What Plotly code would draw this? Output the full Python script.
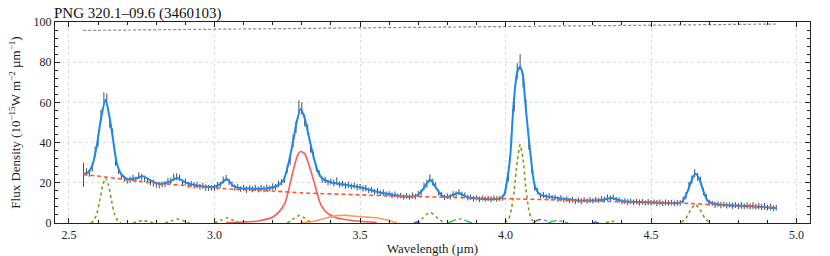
import plotly.graph_objects as go

# ---------------- data ----------------
TITLE = "PNG 320.1\u201309.6 (3460103)"

# observed spectrum: uniform sampling grid (start, step) + fluxes and errors
WAVE_START = 2.55
WAVE_STEP = 0.01
obs_flux = [
    24.0, 25.5, 24.8, 27.5, 35.5, 41.0, 53.5, 62.0, 61.5, 50.5,
    44.5, 30.5, 26.0, 23.2, 22.0, 21.0, 21.5, 22.4, 21.6, 23.5,
    23.0, 22.0, 21.2, 20.4, 19.8, 19.0, 18.8, 19.2, 19.4, 20.8,
    21.0, 22.8, 23.0, 22.5, 20.2, 20.4, 19.0, 19.5, 18.6, 18.9,
    18.0, 18.5, 17.6, 17.4, 17.5, 17.6, 18.9, 19.0, 21.4, 22.3,
    20.5, 19.3, 17.6, 17.8, 16.9, 17.5, 16.6, 17.3, 16.8, 17.4,
    16.7, 17.5, 16.9, 17.6, 17.2, 18.1, 17.9, 19.4, 20.3, 21.6,
    27.0, 31.4, 40.8, 47.6, 57.5, 57.0, 51.0, 46.5, 37.5, 33.6,
    27.4, 24.6, 21.5, 21.4, 20.1, 20.6, 19.8, 20.9, 19.2, 19.5,
    18.6, 19.0, 18.2, 18.7, 17.8, 18.0, 17.1, 17.3, 16.2, 16.5,
    15.5, 15.8, 14.8, 15.1, 14.3, 14.5, 13.8, 14.2, 13.4, 13.6,
    12.9, 13.5, 12.9, 13.6, 13.2, 14.4, 15.2, 18.3, 19.6, 22.2,
    20.3, 18.6, 15.1, 14.1, 12.8, 13.3, 13.0, 14.3, 14.4, 15.3,
    14.2, 13.9, 12.6, 12.8, 12.0, 12.5, 11.8, 12.4, 11.9, 12.3,
    11.8, 12.4, 11.9, 12.2, 12.6, 16.5, 23.2, 41.0, 59.0, 75.5,
    80.0, 71.0, 58.5, 39.0, 26.8, 18.0, 15.8, 13.6, 13.9, 12.9,
    13.4, 12.5, 12.8, 11.9, 12.3, 11.5, 11.9, 11.1, 11.5, 10.8,
    11.3, 10.8, 11.5, 10.9, 11.4, 11.0, 11.6, 11.2, 11.9, 11.7,
    12.6, 12.2, 12.7, 11.6, 11.4, 10.6, 10.9, 10.4, 10.8, 10.3,
    10.7, 10.2, 10.5, 10.0, 10.4, 10.1, 10.4, 9.9, 10.3, 9.8,
    10.2, 9.9, 10.1, 9.7, 10.0, 10.0, 11.5, 13.6, 18.4, 21.6,
    24.8, 23.0, 21.0, 15.6, 12.8, 10.1, 9.8, 9.0, 9.4, 8.9,
    9.2, 8.7, 9.0, 8.6, 8.9, 8.4, 8.8, 8.3, 8.7, 8.2,
    8.6, 8.1, 8.4, 7.9, 8.3, 7.7, 8.0, 7.4, 7.6,
]
obs_err = [
    6.0, 1.8, 1.8, 2.0, 2.5, 3.0, 3.0, 3.0, 3.0, 3.0,
    2.5, 2.0, 1.6, 1.5, 1.5, 1.4, 1.6, 1.5, 1.4, 1.7,
    1.5, 1.6, 1.4, 1.5, 1.7, 1.5, 1.6, 1.4, 1.5, 1.6,
    1.5, 1.8, 1.7, 1.5, 1.4, 1.6, 1.5, 1.4, 1.5, 1.6,
    1.4, 1.5, 1.6, 1.5, 1.4, 1.5, 1.6, 1.5, 1.7, 1.6,
    1.5, 1.4, 1.6, 1.5, 1.4, 1.5, 1.6, 1.4, 1.5, 1.6,
    1.5, 1.4, 1.6, 1.5, 1.4, 1.6, 1.5, 1.6, 1.5, 1.7,
    2.0, 2.5, 3.0, 3.0, 3.5, 3.0, 3.0, 2.5, 2.5, 2.0,
    1.8, 1.6, 1.5, 1.6, 1.4, 1.5, 1.6, 1.8, 1.5, 1.4,
    1.5, 1.6, 1.4, 1.5, 1.6, 1.4, 1.5, 1.6, 1.4, 1.5,
    1.4, 1.5, 1.4, 1.6, 1.4, 1.3, 1.4, 1.5, 1.3, 1.4,
    1.3, 1.4, 1.3, 1.6, 1.4, 1.5, 1.6, 1.8, 2.0, 2.0,
    1.8, 1.6, 1.5, 1.4, 1.3, 1.4, 1.3, 1.5, 1.4, 1.5,
    1.4, 1.3, 1.4, 1.3, 1.4, 1.3, 1.4, 1.3, 1.4, 1.3,
    1.4, 1.3, 1.4, 1.3, 1.5, 2.0, 2.5, 3.0, 3.5, 4.0,
    4.0, 3.5, 3.0, 2.5, 2.0, 1.8, 1.5, 1.4, 1.5, 1.4,
    1.5, 1.4, 1.3, 1.4, 1.5, 1.3, 1.4, 1.3, 1.4, 1.3,
    1.4, 1.5, 1.3, 1.4, 1.5, 1.3, 1.4, 1.3, 1.5, 1.4,
    1.6, 1.5, 1.4, 1.3, 1.4, 1.3, 1.4, 1.5, 1.3, 1.4,
    1.3, 1.5, 1.4, 1.3, 1.5, 1.4, 1.3, 1.5, 1.4, 1.3,
    1.5, 1.4, 1.3, 1.4, 1.5, 1.4, 1.6, 1.8, 2.0, 2.0,
    2.0, 2.0, 2.0, 1.8, 1.6, 1.4, 1.3, 1.5, 1.4, 1.6,
    1.4, 1.5, 1.3, 1.6, 1.4, 1.5, 1.7, 1.4, 1.6, 1.5,
    1.7, 1.4, 1.6, 1.5, 1.7, 1.4, 1.6, 1.5, 1.4,
]

# full model (blue)
model_wave = [2.549, 2.566, 2.580, 2.595, 2.610, 2.626, 2.640, 2.650, 2.664, 2.681,
              2.704, 2.730, 2.755, 2.780, 2.813, 2.845, 2.872, 2.895, 2.916, 2.961,
              2.996, 3.020, 3.042, 3.064, 3.090, 3.130, 3.180, 3.214, 3.236, 3.254,
              3.271, 3.282, 3.296, 3.310, 3.319, 3.340, 3.357, 3.375, 3.400, 3.443,
              3.480, 3.511, 3.550, 3.592, 3.649, 3.695, 3.715, 3.741, 3.760, 3.780,
              3.800, 3.838, 3.867, 3.912, 3.981, 3.995, 4.004, 4.016, 4.027, 4.040,
              4.050, 4.060, 4.067, 4.084, 4.101, 4.119, 4.153, 4.210, 4.256, 4.290,
              4.330, 4.365, 4.405, 4.497, 4.588, 4.605, 4.623, 4.640, 4.652, 4.667,
              4.680, 4.697, 4.737, 4.851, 4.932]
model_flux = [24.4, 25.2, 28.5, 38.0, 52.0, 61.3, 52.0, 43.0, 30.0, 24.0,
              21.8, 22.3, 23.2, 21.2, 19.4, 20.5, 22.4, 20.6, 19.4, 18.2,
              17.9, 19.3, 21.9, 18.5, 17.3, 17.1, 17.2, 18.4, 21.0, 29.5,
              41.4, 50.0, 56.7, 52.0, 46.4, 33.1, 25.0, 21.6, 20.3, 19.1,
              18.3, 17.4, 15.8, 14.6, 13.2, 13.6, 16.5, 21.5, 17.8, 13.8,
              12.9, 14.9, 12.9, 12.1, 12.1, 14.0, 19.9, 33.0, 58.0, 75.0,
              77.9, 73.0, 61.3, 36.5, 18.2, 14.1, 13.0, 11.8, 11.1, 11.2,
              11.4, 12.4, 10.8, 10.2, 9.9, 10.3, 14.9, 21.5, 24.5, 21.5,
              15.7, 10.7, 9.1, 8.3, 7.3]

# continuum (red dashed)
cont_wave = [2.549, 2.63, 2.79, 3.03, 3.21, 3.30, 3.50, 3.60, 3.90, 4.153, 4.382, 4.60, 4.75, 4.932]
cont_flux = [24.2, 22.8, 20.0, 17.1, 15.8, 15.0, 14.0, 13.5, 12.4, 11.6, 10.6, 9.9, 8.9, 7.5]

# top reference line (grey dashed)
top_wave = [2.549, 4.932]
top_flux = [95.8, 99.0]

# atomic/H lines (olive dotted), gaps as None
line_wave = [2.575, 2.586, 2.596, 2.606, 2.616, 2.626, 2.636, 2.646, 2.656, 2.666, 2.678, None,
             2.720, 2.740, 2.755, 2.770, 2.790, None,
             2.830, 2.855, 2.872, 2.890, 2.915, None,
             3.000, 3.025, 3.042, 3.060, 3.085, None,
             3.250, 3.275, 3.292, 3.310, 3.335, None,
             3.695, 3.715, 3.730, 3.741, 3.752, 3.767, 3.790, None,
             3.998, 4.010, 4.020, 4.030, 4.040, 4.050, 4.060, 4.070, 4.080, 4.090, 4.100, None,
             4.345, 4.365, 4.385, None,
             4.605, 4.620, 4.635, 4.652, 4.670, 4.685, 4.700]
line_flux = [0.0, 1.4, 4.7, 11.2, 18.8, 22.4, 18.8, 11.2, 4.7, 1.4, 0.0, None,
             0.0, 0.8, 1.3, 0.8, 0.0, None,
             0.0, 1.2, 2.0, 1.2, 0.0, None,
             0.0, 1.6, 2.6, 1.6, 0.0, None,
             0.0, 2.4, 3.8, 2.4, 0.0, None,
             0.0, 2.3, 4.4, 5.2, 4.4, 2.3, 0.0, None,
             0.2, 1.8, 6.8, 16.5, 30.5, 39.0, 32.0, 17.0, 6.5, 1.8, 0.3, None,
             0.0, 1.0, 0.0, None,
             0.3, 2.4, 6.2, 9.3, 6.2, 2.4, 0.3]

# 3.3 um feature (red solid)
pah33_wave = [3.04, 3.10, 3.15, 3.20, 3.22, 3.242, 3.259, 3.271, 3.285, 3.296,
              3.310, 3.322, 3.340, 3.363, 3.380, 3.397, 3.420, 3.454, 3.500, 3.557]
pah33_flux = [0.2, 0.5, 1.0, 3.0, 5.3, 9.9, 19.1, 26.5, 33.5, 35.6,
              34.5, 30.0, 21.5, 9.9, 6.0, 4.1, 2.5, 1.6, 0.9, 0.4]

# 3.4 um plateau (orange solid)
plat_wave = [3.294, 3.33, 3.363, 3.39, 3.408, 3.431, 3.454, 3.48, 3.50, 3.53, 3.557, 3.58, 3.60, 3.626]
plat_flux = [0.0, 0.6, 1.6, 2.7, 3.3, 3.8, 3.8, 3.4, 3.1, 2.9, 2.6, 1.9, 1.1, 0.2]

# weak components (green dash-dot, blue dash-dot)
green_wave = [3.800, 3.815, 3.830, 3.842, 3.855, 3.870, 3.885, None,
              4.145, 4.165, 4.180, 4.195, 4.215]
green_flux = [0.0, 0.8, 1.7, 2.1, 1.7, 0.8, 0.0, None,
              0.0, 0.9, 1.2, 0.8, 0.0]
bluec_wave = [3.685, 3.695, 3.705, None, 4.095, 4.110, 4.122, 4.135, 4.150, None, 4.300, 4.310, 4.320]
bluec_flux = [0.0, 0.5, 0.0, None, 0.0, 1.4, 1.8, 1.4, 0.0, None, 0.0, 0.6, 0.0]

X_TICKS = [2.5, 3.0, 3.5, 4.0, 4.5, 5.0]
X_TICKTEXT = ["2.5", "3.0", "3.5", "4.0", "4.5", "5.0"]
Y_TICKS = [0, 20, 40, 60, 80, 100]

# ---------------- figure ----------------
obs_wave = [round(WAVE_START + i * WAVE_STEP, 4) for i in range(len(obs_flux))]
FONT = "Liberation Serif"

fig = go.Figure()
fig.add_trace(go.Scatter(x=top_wave, y=top_flux, mode="lines",
                         line=dict(color="#8c8c8c", width=1.2, dash="3px,2px")))
fig.add_trace(go.Scatter(x=obs_wave, y=obs_flux, mode="markers",
                         marker=dict(size=1, color="rgba(0,0,0,0)"),
                         error_y=dict(type="data", array=obs_err, visible=True,
                                      color="#4a4a4a", thickness=1, width=0)))
fig.add_trace(go.Scatter(x=model_wave, y=model_flux, mode="lines",
                         line=dict(color="#1a88f0", width=2, shape="spline", smoothing=0.7)))
fig.add_trace(go.Scatter(x=pah33_wave, y=pah33_flux, mode="lines",
                         line=dict(color="#ff5a5a", width=1.6, shape="spline", smoothing=0.6)))
fig.add_trace(go.Scatter(x=plat_wave, y=plat_flux, mode="lines",
                         line=dict(color="#ff9a5a", width=1.6, shape="spline", smoothing=0.6)))
fig.add_trace(go.Scatter(x=line_wave, y=line_flux, mode="lines", connectgaps=False,
                         line=dict(color="#7f9a1c", width=1.6, dash="dot", shape="spline", smoothing=0.6)))
fig.add_trace(go.Scatter(x=green_wave, y=green_flux, mode="lines", connectgaps=False,
                         line=dict(color="#2db84b", width=1.3, dash="dashdot", shape="spline", smoothing=0.6)))
fig.add_trace(go.Scatter(x=bluec_wave, y=bluec_flux, mode="lines", connectgaps=False,
                         line=dict(color="#2a62e0", width=1.3, dash="dashdot", shape="spline", smoothing=0.6)))
fig.add_trace(go.Scatter(x=cont_wave, y=cont_flux, mode="lines",
                         line=dict(color="#ff5530", width=1.6, dash="4px,3px", shape="spline", smoothing=0.6)))

axis_common = dict(showline=True, linecolor="#222", linewidth=1.2, mirror="ticks",
                   ticks="inside", ticklen=5, tickwidth=1, tickcolor="#222",
                   showgrid=True, gridcolor="#dcdcdc", griddash="dot", gridwidth=1,
                   zeroline=False, automargin=False,
                   tickfont=dict(family=FONT, size=12, color="#222"))

fig.update_xaxes(range=[2.452, 5.046], tickvals=X_TICKS, ticktext=X_TICKTEXT,
                 minor=dict(dtick=0.1, ticks="inside", ticklen=3, tickcolor="#222", showgrid=False),
                 title=dict(text="Wavelength (\u00b5m)", font=dict(family=FONT, size=13, color="#222"),
                            standoff=3),
                 **axis_common)
fig.update_yaxes(range=[0, 100], tickvals=Y_TICKS,
                 minor=dict(dtick=4, ticks="inside", ticklen=3, tickcolor="#222", showgrid=False),
                 title=dict(text="Flux Density (10<sup>\u221215</sup>W m<sup>\u22122</sup> \u00b5m<sup>\u22121</sup>)",
                            font=dict(family=FONT, size=13, color="#222"), standoff=9),
                 **axis_common)

fig.add_annotation(text=TITLE, xref="paper", yref="paper", x=0, y=1, xanchor="left", yanchor="bottom",
                   showarrow=False, yshift=-1, xshift=-2, borderpad=0,
                   font=dict(family=FONT, size=15, color="#111"))

fig.update_layout(width=830, height=256, margin=dict(l=55, r=20, t=22, b=33),
                  paper_bgcolor="white", plot_bgcolor="white", showlegend=False)

# remove the default 8px page margin so the 830x256 figure fills the window exactly
fig.write_html("out.html", config={"displayModeBar": False, "staticPlot": True},
               post_script="document.body.style.margin='0';")
